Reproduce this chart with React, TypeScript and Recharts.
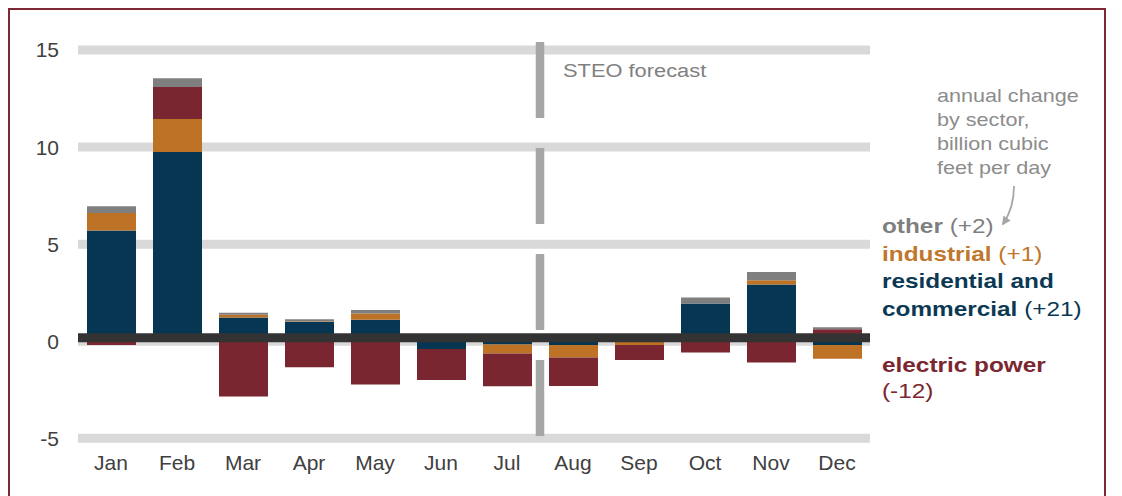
import React from 'react';
import { BarChart, Bar, XAxis, YAxis, CartesianGrid, ReferenceLine } from 'recharts';

// monthly change vs prior year, billion cubic feet per day
const months = ['Jan', 'Feb', 'Mar', 'Apr', 'May', 'Jun', 'Jul', 'Aug', 'Sep', 'Oct', 'Nov', 'Dec'];
const residential = [5.7, 9.75, 1.22, 1.0, 1.1, -0.4, -0.17, -0.2, 0, 1.94, 2.92, -0.2];
const industrial = [0.9, 1.7, 0.15, 0.03, 0.33, 0, -0.46, -0.64, -0.2, 0, 0.22, -0.7];
const electric = [-0.2, 1.65, -2.85, -1.34, -2.23, -1.6, -1.69, -1.46, -0.77, -0.58, -1.1, 0.62];
const other = [0.35, 0.45, 0.1, 0.1, 0.18, 0, 0, 0, 0, 0.31, 0.42, 0.1];
const yTicks = [-5, 0, 5, 10, 15];
const forecastStart = 'Aug';

const chartData = months.map((m, i) => ({
  month: m,
  residential: residential[i],
  industrial: industrial[i],
  electric: electric[i],
  other: other[i],
}));

const FONT = '"Liberation Sans", Arial, sans-serif';

// zero axis sits a few px above true zero in the original
const ZeroLine = (props: any) => (
  <line x1={props.x1} x2={props.x2} y1={props.y1 - 3.5} y2={props.y2 - 3.5} stroke="#333333" strokeWidth={9} />
);

// forecast divider pokes a little above the top gridline
const ForecastLine = (props: any) => (
  <line
    x1={props.x1}
    x2={props.x2}
    y1={Math.min(props.y1, props.y2) - 8}
    y2={Math.max(props.y1, props.y2)}
    stroke="#a6a6a6"
    strokeWidth={8.5}
    strokeDasharray="76 30"
  />
);

// text in the original is stretched horizontally
const Stretch: React.FC<{ x: number; sx: number; children: React.ReactNode }> = ({ x, sx, children }) => (
  <g transform={`translate(${x} 0) scale(${sx} 1)`}>{children}</g>
);

const App: React.FC = () => {
  return (
    <div style={{ position: 'absolute', left: 0, top: 0, width: 1122, height: 496, overflow: 'hidden', background: '#fff' }}>
      <div
        style={{
          position: 'absolute',
          left: 8,
          top: 8,
          width: 1098,
          height: 600,
          boxSizing: 'border-box',
          border: '2px solid #7d2834',
        }}
      />
      <div style={{ position: 'absolute', left: 0, top: 0 }}>
        <BarChart
          width={1122}
          height={496}
          data={chartData}
          stackOffset="sign"
          margin={{ top: 50, right: 252, bottom: 17.7, left: 18 }}
          style={{ fontFamily: FONT }}
        >
          <CartesianGrid horizontal vertical={false} stroke="#d9d9d9" strokeWidth={9} />
          <XAxis
            dataKey="month"
            axisLine={false}
            tickLine={false}
            tickSize={0}
            tickMargin={17}
            height={40}
            interval={0}
            tick={{ fill: '#404040', fontSize: 21 }}
          />
          <YAxis
            domain={[-5, 15]}
            ticks={yTicks}
            axisLine={false}
            tickLine={false}
            tickSize={0}
            tickMargin={19}
            width={60}
            tick={{ fill: '#404040', fontSize: 21 }}
          />
          <Bar dataKey="residential" stackId="a" fill="#073652" barSize={49} isAnimationActive={false} />
          <Bar dataKey="industrial" stackId="a" fill="#bd7226" barSize={49} isAnimationActive={false} />
          <Bar dataKey="electric" stackId="a" fill="#7a2631" barSize={49} isAnimationActive={false} />
          <Bar dataKey="other" stackId="a" fill="#7f7f7f" barSize={49} isAnimationActive={false} />
          <ReferenceLine y={0} shape={ZeroLine} />
          <ReferenceLine x={forecastStart} position="start" shape={ForecastLine} />
        </BarChart>
      </div>
      <svg width={1122} height={496} style={{ position: 'absolute', left: 0, top: 0, fontFamily: FONT }}>
        <defs>
          <marker id="arr" viewBox="0 0 10 10" refX="8" refY="5" markerWidth="5" markerHeight="5" orient="auto">
            <path d="M0,0 L10,5 L0,10 z" fill="#a6a6a6" />
          </marker>
        </defs>
        <Stretch x={563} sx={1.15}>
          <text x={0} y={76.7} fontSize={19} fill="#808080">STEO forecast</text>
        </Stretch>
        <Stretch x={937} sx={1.2}>
          <g fontSize={18} fill="#8c8c8c">
            <text x={0} y={101.7}>annual change</text>
            <text x={0} y={125.7}>by sector,</text>
            <text x={0} y={149.7}>billion cubic</text>
            <text x={0} y={173.7}>feet per day</text>
          </g>
        </Stretch>
        <path d="M1014,186 Q1014,208 1003,224" fill="none" stroke="#a6a6a6" strokeWidth={1.8} markerEnd="url(#arr)" />
        <Stretch x={882} sx={1.16}>
          <g fontSize={21}>
            <text x={0} y={233.3} fill="#7f7f7f">
              <tspan fontWeight="bold">other</tspan> (+2)
            </text>
            <text x={0} y={261} fill="#c0772c">
              <tspan fontWeight="bold">industrial</tspan> (+1)
            </text>
            <text x={0} y={288.3} fill="#0b3954" fontWeight="bold">residential and</text>
            <text x={0} y={315.7} fill="#0b3954">
              <tspan fontWeight="bold">commercial</tspan> (+21)
            </text>
            <text x={0} y={371.7} fill="#7b2630" fontWeight="bold">electric power</text>
            <text x={0} y={398.3} fill="#7b2630">(-12)</text>
          </g>
        </Stretch>
      </svg>
    </div>
  );
};

export default App;
